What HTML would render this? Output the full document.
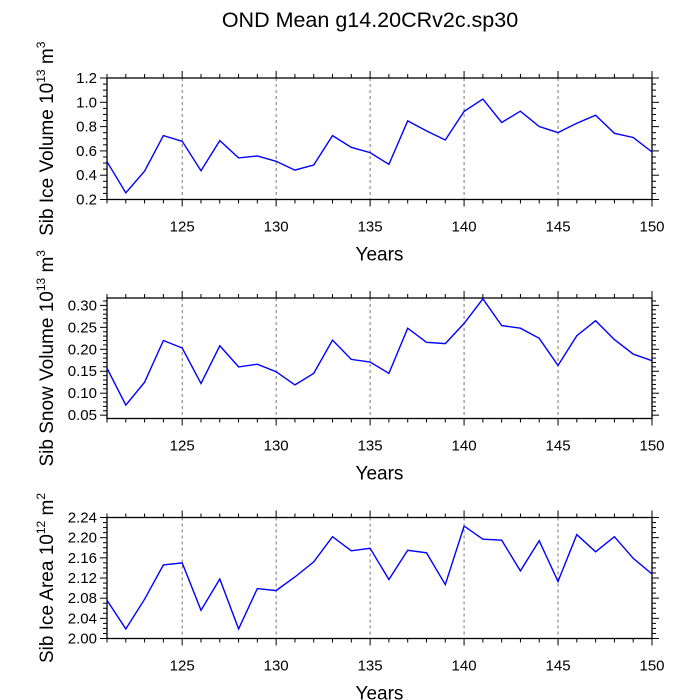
<!DOCTYPE html>
<html><head><meta charset="utf-8"><style>
body{margin:0;background:#fff;}
svg{display:block;font-family:"Liberation Sans",sans-serif;}
</style></head><body>
<svg id="c" width="699" height="700">
<text x="370" y="27" text-anchor="middle" font-size="21.5">OND Mean g14.20CRv2c.sp30</text>
</svg>
<script>
const years = [121,122,123,124,125,126,127,128,129,130,131,132,133,134,135,136,137,138,139,140,141,142,143,144,145,146,147,148,149,150];
const iceVolume = [0.511,0.255,0.434,0.726,0.679,0.437,0.685,0.542,0.558,0.514,0.442,0.484,0.726,0.630,0.586,0.489,0.847,0.765,0.690,0.925,1.026,0.834,0.927,0.801,0.751,0.828,0.894,0.745,0.710,0.591];
const snowVolume = [0.157,0.073,0.125,0.220,0.203,0.122,0.208,0.160,0.166,0.149,0.119,0.145,0.221,0.177,0.171,0.145,0.248,0.216,0.213,0.259,0.315,0.254,0.248,0.225,0.163,0.231,0.265,0.222,0.189,0.174];
const iceArea = [2.076,2.019,2.078,2.146,2.150,2.056,2.118,2.019,2.099,2.095,2.122,2.152,2.202,2.174,2.179,2.117,2.175,2.170,2.107,2.223,2.197,2.195,2.134,2.194,2.113,2.206,2.172,2.202,2.159,2.128];
const xTicks = [125,130,135,140,145,150];
const ticks1 = ["0.2","0.4","0.6","0.8","1.0","1.2"];
const ticks2 = ["0.05","0.10","0.15","0.20","0.25","0.30"];
const ticks3 = ["2.00","2.04","2.08","2.12","2.16","2.20","2.24"];

const NS="http://www.w3.org/2000/svg";
const svg=document.getElementById('c');
function mk(t,a,p){const e=document.createElementNS(NS,t);for(const k in a)e.setAttribute(k,a[k]);(p||svg).appendChild(e);return e;}
const L=107,R=652,X0=121,X1=150;
const xs=v=>L+(v-X0)/(X1-X0)*(R-L);

function panel(name,top,bot,ymin,ymax,vals,ticks,minorStep,title){
  const g=mk('g',{});
  
  
  const ys=v=>bot-(v-ymin)/(ymax-ymin)*(bot-top);
  xTicks.forEach(t=>{ if(t<X1){const l=mk('line',{x1:xs(t),x2:xs(t),y1:top,y2:bot,stroke:'#555','stroke-width':0.8,'stroke-dasharray':'3,3'},g);
    
    }});
  for(let y=X0;y<=X1;y++){const maj=y%5===0;const len=maj?7:4;
    mk('line',{x1:xs(y),x2:xs(y),y1:bot,y2:bot+len,stroke:'#000','stroke-width':1},g);
    mk('line',{x1:xs(y),x2:xs(y),y1:top,y2:top-len,stroke:'#000','stroke-width':1},g);}
  xTicks.forEach(t=>{const tx=mk('text',{x:xs(t),y:bot+32,'text-anchor':'middle','font-size':15},g);tx.textContent=t;
    
    });
  const tv=ticks.map(Number);
  for(let v=ymin-(ymin%minorStep);v<=ymax+1e-9;v+=minorStep){ if(v<ymin-1e-9)continue;
    const maj=tv.some(t=>Math.abs(t-v)<1e-6);const len=maj?7:4;
    mk('line',{x1:L,x2:L-len,y1:ys(v),y2:ys(v),stroke:'#000','stroke-width':1},g);
    mk('line',{x1:R,x2:R+len,y1:ys(v),y2:ys(v),stroke:'#000','stroke-width':1},g);}
  ticks.forEach(t=>{const tx=mk('text',{x:L-10,y:ys(+t)+5,'text-anchor':'end','font-size':15},g);tx.textContent=t;
    
    });
  mk('rect',{x:L,y:top,width:R-L,height:bot-top,fill:'none',stroke:'#000','stroke-width':1.3},g);
  const pts=vals.map((v,i)=>xs(years[i]).toFixed(1)+','+ys(v).toFixed(1)).join(' ');
  const pl=mk('polyline',{points:pts,fill:'none',stroke:'#0000ff','stroke-width':1.4},g);
  
  
  const xl=mk('text',{x:(L+R)/2,y:bot+61,'text-anchor':'middle','font-size':19},g);xl.textContent='Years';
  
  
  const cy=(top+bot)/2;
  const yl=mk('text',{x:53,y:cy,'text-anchor':'middle','font-size':19,transform:`rotate(-90 53 ${cy})`},g);
  yl.innerHTML=title;
  
  
}
panel('ice-volume',78,199.5,0.2,1.2,iceVolume,ticks1,0.05,'Sib Ice Volume 10<tspan dy="-8" font-size="12">13</tspan><tspan dy="8"> m</tspan><tspan dy="-8" font-size="12">3</tspan>');
panel('snow-volume',298,418.5,0.0424,0.3168,snowVolume,ticks2,0.01,'Sib Snow Volume 10<tspan dy="-8" font-size="12">13</tspan><tspan dy="8"> m</tspan><tspan dy="-8" font-size="12">3</tspan>');
panel('ice-area',517.5,638.5,2.0,2.24,iceArea,ticks3,0.01,'Sib Ice Area 10<tspan dy="-8" font-size="12">12</tspan><tspan dy="8"> m</tspan><tspan dy="-8" font-size="12">2</tspan>');
</script>
</body></html>
